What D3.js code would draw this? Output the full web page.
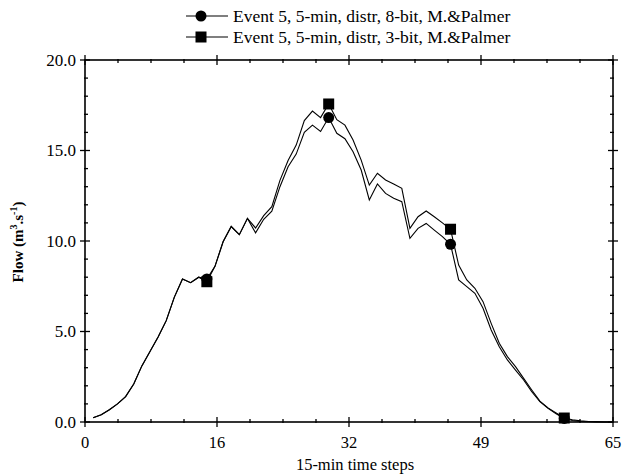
<!DOCTYPE html>
<html>
<head>
<meta charset="utf-8">
<script src="https://cdn.jsdelivr.net/npm/d3@7"></script>
<style>
  body { margin: 0; background: #fff; }
  svg { display: block; }
  text { font-family: "Liberation Serif", "Times New Roman", serif; fill: #000; }
</style>
</head>
<body>
<script>
// ---- data ----
const timeSteps = d3.range(1, 66);
const flow8bit = [0.24,0.40,0.68,1.00,1.40,2.10,3.10,3.90,4.70,5.60,
  6.90,7.90,7.70,8.00,7.90,8.60,9.96,10.80,10.35,11.25,
  10.45,11.20,11.65,13.00,14.10,14.80,16.00,16.40,16.05,16.82,
  15.95,15.65,14.93,13.92,12.27,13.15,12.63,12.36,12.17,10.15,
  10.70,10.97,10.60,10.24,9.82,7.85,7.48,7.11,6.28,5.08,
  4.16,3.43,2.87,2.32,1.67,1.12,0.76,0.45,0.20,0.08,
  0.03,0.01,0.00,0.00,0.00];
const flow3bit = [0.24,0.40,0.68,1.00,1.40,2.10,3.10,3.90,4.70,5.60,
  6.90,7.90,7.70,8.00,7.75,8.60,9.96,10.80,10.35,11.25,
  10.72,11.40,11.90,13.35,14.45,15.30,16.65,17.18,16.82,17.57,
  16.70,16.40,15.58,14.47,13.09,13.74,13.37,13.15,12.91,10.70,
  11.34,11.66,11.34,11.00,10.65,8.67,7.85,7.39,6.65,5.45,
  4.35,3.61,3.06,2.41,1.77,1.15,0.78,0.50,0.22,0.12,
  0.06,0.03,0.02,0.00,0.00];
const markerSteps = [15, 30, 45, 59];
const seriesNames = ["Event 5, 5-min, distr, 8-bit, M.&Palmer", "Event 5, 5-min, distr, 3-bit, M.&Palmer"];
const xTickValues = [0, 16.25, 32.5, 48.75, 65];
const xTickLabels = ["0", "16", "32", "49", "65"];
const yTickValues = [0, 5, 10, 15, 20];
const yTickLabels = ["0.0", "5.0", "10.0", "15.0", "20.0"];
const xTitle = "15-min time steps";

// ---- layout ----
const W = 629, H = 476;
const L = 85, R = 613, T = 60, B = 422;
const svg = d3.select("body").append("svg").attr("width", W).attr("height", H);

const x = d3.scaleLinear().domain([0, 65]).range([L, R]);
const y = d3.scaleLinear().domain([0, 20]).range([B, T]);

const xMinor = d3.range(0, 65.001, 65 / 16);
const yMinor = d3.range(0, 20.001, 1);

// frame
svg.append("rect").attr("x", L).attr("y", T).attr("width", R - L).attr("height", B - T)
  .attr("fill", "none").attr("stroke", "#000").attr("stroke-width", 1.6);

const ticks = svg.append("g").attr("stroke", "#000").attr("stroke-width", 1.3);
xMinor.forEach(v => {
  const isMajor = xTickValues.some(t => Math.abs(t - v) < 1e-6);
  const a = isMajor ? 5 : 3;
  ticks.append("line").attr("x1", x(v)).attr("x2", x(v)).attr("y1", B - a).attr("y2", B + (isMajor ? 5 : 1));
  ticks.append("line").attr("x1", x(v)).attr("x2", x(v)).attr("y1", T + a).attr("y2", T - (isMajor ? 5 : 1));
});
yMinor.forEach(v => {
  const isMajor = yTickValues.includes(v);
  const a = isMajor ? 5 : 3;
  ticks.append("line").attr("y1", y(v)).attr("y2", y(v)).attr("x1", L - (isMajor ? 5 : 1)).attr("x2", L + a);
  ticks.append("line").attr("y1", y(v)).attr("y2", y(v)).attr("x1", R + (isMajor ? 5 : 1)).attr("x2", R - a);
});

// tick labels
svg.append("g").selectAll("text").data(xTickValues).join("text")
  .attr("x", d => x(d)).attr("y", 448).attr("text-anchor", "middle")
  .attr("font-size", 16.5).text((d, i) => xTickLabels[i]);
svg.append("g").selectAll("text").data(yTickValues).join("text")
  .attr("x", L - 9).attr("y", d => y(d) + 5.5).attr("text-anchor", "end")
  .attr("font-size", 17).text((d, i) => yTickLabels[i]);

// axis titles
svg.append("text").attr("x", 355).attr("y", 470).attr("text-anchor", "middle")
  .attr("font-size", 16.5).text(xTitle);
const yt = svg.append("text").attr("transform", "translate(23,242) rotate(-90)")
  .attr("text-anchor", "middle").attr("font-size", 15).attr("font-weight", "bold");
yt.append("tspan").text("Flow (m");
yt.append("tspan").attr("dy", -6).attr("font-size", 10).text("3");
yt.append("tspan").attr("dy", 6).text(".s");
yt.append("tspan").attr("dy", -6).attr("font-size", 10).text("-1");
yt.append("tspan").attr("dy", 6).text(")");

// lines
const line = d3.line().x((d, i) => x(timeSteps[i])).y(d => y(d));
svg.append("path").datum(flow8bit).attr("d", line).attr("fill", "none").attr("stroke", "#000").attr("stroke-width", 1.1);
svg.append("path").datum(flow3bit).attr("d", line).attr("fill", "none").attr("stroke", "#000").attr("stroke-width", 1.1);

// markers
const idx = s => timeSteps.indexOf(s);
svg.append("g").selectAll("circle").data(markerSteps).join("circle")
  .attr("cx", d => x(d)).attr("cy", d => y(flow8bit[idx(d)])).attr("r", 5.5).attr("fill", "#000");
svg.append("g").selectAll("rect").data(markerSteps).join("rect")
  .attr("x", d => x(d) - 5.5).attr("y", d => y(flow3bit[idx(d)]) - 5.5).attr("width", 11).attr("height", 11).attr("fill", "#000");

// legend
const lg = svg.append("g");
[0, 1].forEach(i => {
  const cy = 16 + i * 21;
  lg.append("line").attr("x1", 186).attr("x2", 228).attr("y1", cy).attr("y2", cy).attr("stroke", "#000").attr("stroke-width", 1.1);
  if (i === 0) lg.append("circle").attr("cx", 201).attr("cy", cy).attr("r", 5.5).attr("fill", "#000");
  else lg.append("rect").attr("x", 195.5).attr("y", cy - 5.5).attr("width", 11).attr("height", 11).attr("fill", "#000");
  lg.append("text").attr("x", 233).attr("y", cy + 5.5).attr("font-size", 17.5).text(seriesNames[i]);
});
</script>
</body>
</html>
